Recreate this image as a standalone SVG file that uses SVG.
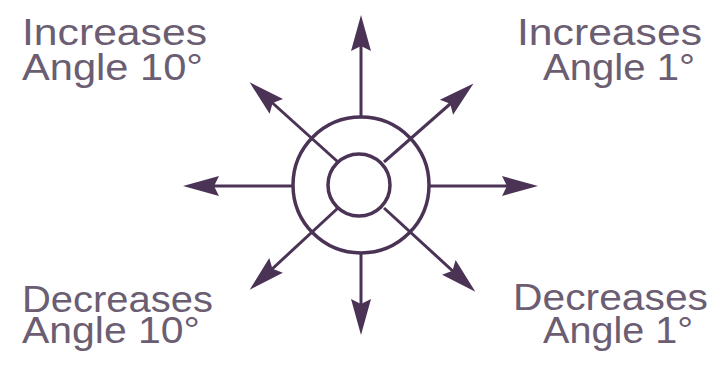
<svg xmlns="http://www.w3.org/2000/svg" width="711" height="365" viewBox="0 0 711 365">
<style>
.ln{stroke:#4b3356;stroke-width:3;fill:none}
.ring{stroke:#4b3356;stroke-width:3.5;fill:none}
.lbl{font-family:"Liberation Sans",Arial,Helvetica,sans-serif;font-size:37px;fill:#6b5d72}
</style>
<defs>
<marker id="ah" viewBox="-28 -12 40 24" refX="0" refY="0" markerWidth="40" markerHeight="24" markerUnits="userSpaceOnUse" orient="auto">
<path d="M10,0 L-26,-10 L-21,0 L-26,10 Z" fill="#4b3356"/>
</marker>
</defs>
<rect width="711" height="365" fill="#ffffff"/>
<g id="connectors">
<line class="ln" x1="361" y1="117" x2="361" y2="25" marker-end="url(#ah)"/>
<line class="ln" x1="361" y1="253" x2="361" y2="325" marker-end="url(#ah)"/>
<line class="ln" x1="293" y1="186" x2="193" y2="186" marker-end="url(#ah)"/>
<line class="ln" x1="429" y1="186" x2="528" y2="186" marker-end="url(#ah)"/>
<line class="ln" x1="338" y1="162" x2="257" y2="89" marker-end="url(#ah)"/>
<line class="ln" x1="384" y1="162" x2="466" y2="90" marker-end="url(#ah)"/>
<line class="ln" x1="338" y1="208" x2="257" y2="283" marker-end="url(#ah)"/>
<line class="ln" x1="384" y1="208" x2="468" y2="285" marker-end="url(#ah)"/>
</g>
<g id="dial">
<circle class="ring" cx="361" cy="185" r="68"/>
<circle class="ring" cx="359" cy="185" r="31"/>
</g>
<g id="label-inc10">
<text class="lbl" x="22" y="45" textLength="185" lengthAdjust="spacingAndGlyphs">Increases</text>
<text class="lbl" x="22" y="80" textLength="181" lengthAdjust="spacingAndGlyphs">Angle 10°</text>
</g>
<g id="label-inc1">
<text class="lbl" x="517" y="45" textLength="185" lengthAdjust="spacingAndGlyphs">Increases</text>
<text class="lbl" x="543" y="80" textLength="152" lengthAdjust="spacingAndGlyphs">Angle 1°</text>
</g>
<g id="label-dec10">
<text class="lbl" x="22" y="312" textLength="191" lengthAdjust="spacingAndGlyphs">Decreases</text>
<text class="lbl" x="22" y="343" textLength="178" lengthAdjust="spacingAndGlyphs">Angle 10°</text>
</g>
<g id="label-dec1">
<text class="lbl" x="513" y="310" textLength="195" lengthAdjust="spacingAndGlyphs">Decreases</text>
<text class="lbl" x="543" y="343" textLength="150" lengthAdjust="spacingAndGlyphs">Angle 1°</text>
</g>
</svg>
